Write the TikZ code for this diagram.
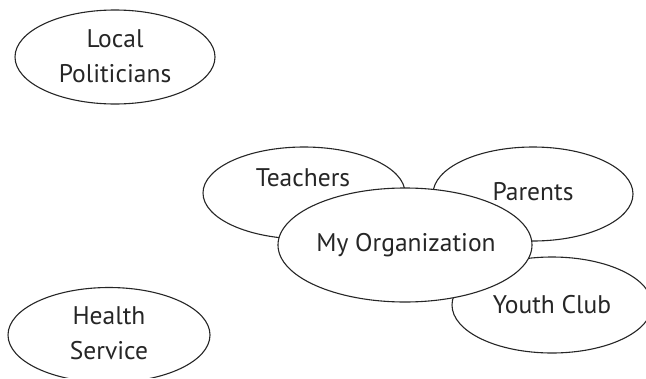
\documentclass[tikz,border=0pt]{standalone}
\usepackage{fontspec}
\setmainfont{PT Sans}
\usetikzlibrary{shapes.geometric}
\begin{document}
\begin{tikzpicture}[x=1pt,y=-1pt,
  oval/.style={ellipse,draw=black!85,line width=1.1pt,fill=white,inner sep=0pt},
  lbl/.style={font=\fontsize{25.5}{35}\selectfont,text=black!85,align=center}]
\useasboundingbox (0,0) rectangle (646,378);
\clip (0,0) rectangle (646,377);
\node[oval,minimum width=200pt,minimum height=94pt] (local) at (115,57) {};
\node[lbl] (localt) at (115,56) {Local\\Politicians};
\node[oval,minimum width=202pt,minimum height=95pt] (health) at (109,335) {};
\node[lbl] (healtht) at (109,333) {Health\\Service};
\node[oval,minimum width=202pt,minimum height=92pt] (teach) at (304,193) {};
\node[lbl] (teacht) at (303,178) {Teachers};
\node[oval,minimum width=200pt,minimum height=94pt] (par) at (533,194) {};
\node[lbl] (part) at (533,192) {Parents};
\node[oval,minimum width=200pt,minimum height=96pt] (youth) at (552,305) {};
\node[lbl] (youtht) at (552,305) {Youth Club};
\node[oval,minimum width=254pt,minimum height=114pt] (org) at (405,245) {};
\node[lbl] (orgt) at (406,245) {My Organization};
\end{tikzpicture}
\end{document}
